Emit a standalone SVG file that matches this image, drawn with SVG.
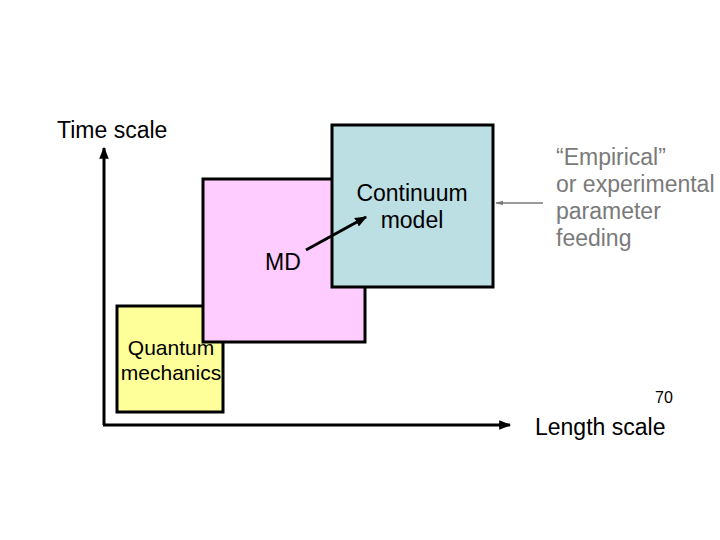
<svg xmlns="http://www.w3.org/2000/svg" width="720" height="540" viewBox="0 0 720 540">
<style>
.t{font-family:"Liberation Sans",Arial,sans-serif;fill:#000}
.g{font-family:"Liberation Sans",Arial,sans-serif;fill:#7a7a7a;font-size:23px}
.box{stroke:#000;stroke-width:3}
</style>
<defs>
<marker id="ah" viewBox="0 0 10 10" refX="9" refY="5" markerWidth="4" markerHeight="4" orient="auto" markerUnits="strokeWidth"><path d="M0,1 L10,5 L0,9 Z" fill="#000"/></marker>
<marker id="ahg" viewBox="0 0 10 10" refX="9" refY="5" markerWidth="6" markerHeight="6" orient="auto" markerUnits="strokeWidth"><path d="M0,2 L10,5 L0,8 Z" fill="#7a7a7a"/></marker>
</defs>
<rect width="720" height="540" fill="#fff"/>
<g id="axes">
<line x1="104" y1="425" x2="104" y2="148" stroke="#000" stroke-width="3" marker-end="url(#ah)"/>
<line x1="103" y1="425" x2="510" y2="425" stroke="#000" stroke-width="3" marker-end="url(#ah)"/>
<text class="t" x="57" y="138" font-size="23">Time scale</text>
<text class="t" x="535" y="435" font-size="23">Length scale</text>
<text class="t" x="655" y="403" font-size="16">70</text>
</g>
<g id="quantum">
<rect class="box" x="117" y="306" width="106" height="106" fill="#FFFF99"/>
</g>
<g id="md">
<rect class="box" x="203" y="179" width="162" height="163" fill="#FFCCFF"/>
</g>
<g id="continuum">
<rect class="box" x="332" y="125" width="161" height="162" fill="#BCDFE3"/>
<text class="t" x="412" y="201" font-size="23" text-anchor="middle">Continuum</text>
<text class="t" x="412" y="228" font-size="23" text-anchor="middle">model</text>
</g>
<g id="labels">
<text class="t" x="171" y="355" font-size="21" text-anchor="middle">Quantum</text>
<text class="t" x="171" y="380" font-size="21" text-anchor="middle">mechanics</text>
<text class="t" x="265" y="270" font-size="23">MD</text>
</g>
<g id="parameter">
<text class="g" x="556" y="165">“Empirical”</text>
<text class="g" x="556" y="192">or experimental</text>
<text class="g" x="556" y="219">parameter</text>
<text class="g" x="556" y="246">feeding</text>
</g>
<g id="connectors">
<line x1="306" y1="250" x2="366" y2="217" stroke="#000" stroke-width="3" marker-end="url(#ah)"/>
<line x1="543" y1="203" x2="496" y2="203" stroke="#7a7a7a" stroke-width="1.3" marker-end="url(#ahg)"/>
</g>
</svg>
